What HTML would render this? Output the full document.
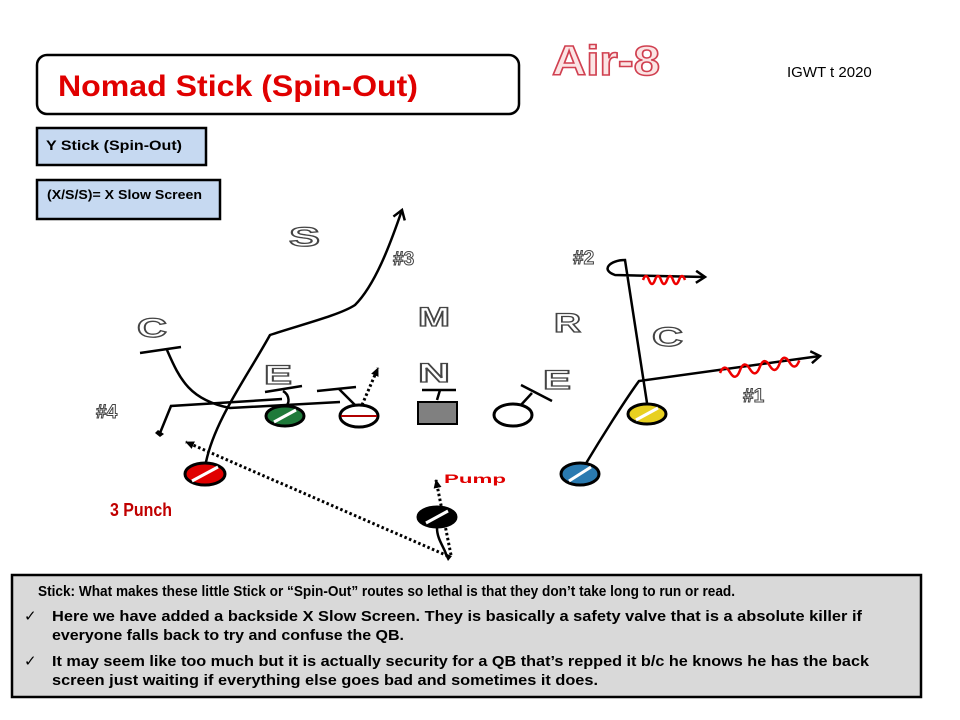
<!DOCTYPE html>
<html><head><meta charset="utf-8"><style>html,body{margin:0;padding:0;background:#fff}svg{display:block}</style></head>
<body>
<svg width="960" height="720" viewBox="0 0 960 720" xmlns="http://www.w3.org/2000/svg" font-family="Liberation Sans, sans-serif">
<defs>
<marker id="ah" markerWidth="14" markerHeight="14" refX="10" refY="7" orient="auto" markerUnits="userSpaceOnUse"><path d="M1,1 L10,7 L1,13" fill="none" stroke="#000" stroke-width="2.5"/></marker>
<marker id="ahs" markerWidth="10" markerHeight="10" refX="8" refY="5" orient="auto" markerUnits="userSpaceOnUse"><path d="M0,1 L9,5 L0,9 z" fill="#000"/></marker>
</defs>
<rect width="960" height="720" fill="#fff"/>
<rect x="37" y="55" width="482" height="59" rx="10" fill="#fff" stroke="#000" stroke-width="2.5"/>
<text x="58" y="96" font-size="30" font-weight="bold" fill="#e00000" textLength="360" lengthAdjust="spacingAndGlyphs">Nomad Stick (Spin-Out)</text>
<text x="552" y="75" font-size="42" font-weight="bold" fill="#fbe4e4" stroke="#d04050" stroke-width="1.5" textLength="108" lengthAdjust="spacingAndGlyphs">Air-8</text>
<text x="787" y="77" font-size="15" fill="#000">IGWT t 2020</text>
<rect x="37" y="128" width="169" height="37" fill="#c6d9f1" stroke="#000" stroke-width="2.5"/>
<text x="46" y="150" font-size="14" font-weight="bold" textLength="136" lengthAdjust="spacingAndGlyphs">Y Stick (Spin-Out)</text>
<rect x="37" y="180" width="183" height="39" fill="#c6d9f1" stroke="#000" stroke-width="2.5"/>
<text x="47" y="199" font-size="12.5" font-weight="bold" textLength="155" lengthAdjust="spacingAndGlyphs">(X/S/S)= X Slow Screen</text>
<g font-size="27" font-weight="900" fill="#fff" stroke="#444" stroke-width="1.3">
<text x="289" y="246" textLength="31" lengthAdjust="spacingAndGlyphs">S</text>
<text x="137" y="337" textLength="30" lengthAdjust="spacingAndGlyphs">C</text>
<text x="264" y="384" textLength="28" lengthAdjust="spacingAndGlyphs">E</text>
<text x="418" y="326" textLength="32" lengthAdjust="spacingAndGlyphs">M</text>
<text x="418" y="382" textLength="32" lengthAdjust="spacingAndGlyphs">N</text>
<text x="554" y="332" textLength="27" lengthAdjust="spacingAndGlyphs">R</text>
<text x="652" y="346" textLength="31" lengthAdjust="spacingAndGlyphs">C</text>
<text x="543" y="389" textLength="28" lengthAdjust="spacingAndGlyphs">E</text>
</g>
<g font-size="19" font-weight="bold" fill="#fff" stroke="#444" stroke-width="1">
<text x="393" y="265">#3</text>
<text x="96" y="418">#4</text>
<text x="573" y="264">#2</text>
<text x="743" y="402">#1</text>
</g>
<g fill="none" stroke="#000" stroke-width="2.5">
<path d="M206,462 C215,420 245,380 270,335 C300,325 340,315 355,305 C375,285 390,245 402,210" marker-end="url(#ah)"/>
<line x1="140" y1="353" x2="181" y2="347"/>
<path d="M167,350 C180,380 190,400 230,408 L340,402"/>
<path d="M160,433 L171,406 L282,399"/>
<line x1="265" y1="392" x2="302" y2="386"/>
<path d="M283,391 C290,395 290,405 285,406"/>
<line x1="317" y1="391" x2="356" y2="387"/>
<path d="M339,389 C345,395 350,400 355,405"/>
<line x1="422" y1="390" x2="456" y2="390"/>
<line x1="440" y1="390" x2="437" y2="400"/>
<line x1="521" y1="385" x2="552" y2="401"/>
<line x1="520" y1="406" x2="532" y2="393"/>
<path d="M647,403 L625,260 C610,260 600,270 615,275 L705,277" marker-end="url(#ah)"/>
<path d="M585,465 C600,440 625,400 639,381 L820,356" marker-end="url(#ah)"/>
<path d="M437,528 C437,540 445,548 447,557"/>
</g>
<path d="M158,430 L164,434 L160,437 L155,433 z" fill="#000"/>
<path d="M444,553 L452,556 L448,561 z" fill="#000"/>
<path d="M643,280 q3,-8 6,0 t6,0 t6,0 t6,0 t6,0 t6,0 t6,0" fill="none" stroke="#e00" stroke-width="2.5"/>
<path d="M720,373 q5,-10 10,0 t10,-1 t10,-1 t10,-1 t10,-1 t10,-1 t10,-1 t10,-1" fill="none" stroke="#e00" stroke-width="2.5" transform="rotate(-4 720 373)"/>
<g fill="none" stroke="#000" stroke-width="3" stroke-dasharray="2.5,2.5">
<line x1="448" y1="556" x2="186" y2="442" marker-end="url(#ahs)"/>
<line x1="451" y1="555" x2="436" y2="480" marker-end="url(#ahs)"/>
<line x1="362" y1="405" x2="378" y2="368" marker-end="url(#ahs)"/>
</g>
<g stroke-width="3">
<ellipse cx="205" cy="474" rx="20" ry="11" fill="#e00000" stroke="#000"/>
<line x1="192" y1="481" x2="218" y2="467" stroke="#fff"/>
<ellipse cx="285" cy="416" rx="19" ry="10" fill="#1f7a3a" stroke="#000"/>
<line x1="274" y1="422" x2="296" y2="410" stroke="#fff"/>
<ellipse cx="359" cy="416" rx="19" ry="11" fill="#fff" stroke="#000"/>
<line x1="341" y1="416" x2="377" y2="416" stroke="#b00000" stroke-width="2"/>
<rect x="418" y="402" width="39" height="22" fill="#808080" stroke="#000" stroke-width="2"/>
<ellipse cx="513" cy="415" rx="19" ry="11" fill="#fff" stroke="#000"/>
<ellipse cx="647" cy="414" rx="19" ry="10" fill="#e8d020" stroke="#000"/>
<line x1="636" y1="420" x2="658" y2="408" stroke="#fff"/>
<ellipse cx="580" cy="474" rx="19" ry="11" fill="#2a7ab0" stroke="#000"/>
<line x1="569" y1="481" x2="591" y2="467" stroke="#fff"/>
<ellipse cx="437" cy="517" rx="19" ry="10" fill="#000" stroke="#000"/>
<line x1="426" y1="523" x2="448" y2="511" stroke="#fff"/>
</g>
<text x="444" y="483" font-size="12" font-weight="bold" fill="#e00000" textLength="62" lengthAdjust="spacingAndGlyphs">Pump</text>
<text x="110" y="516" font-size="18" font-weight="bold" fill="#c00000" textLength="62" lengthAdjust="spacingAndGlyphs">3 Punch</text>
<rect x="12" y="575" width="909" height="122" fill="#d9d9d9" stroke="#000" stroke-width="2.5"/>
<g font-size="15" font-weight="bold" fill="#000">
<text x="38" y="596" textLength="697" lengthAdjust="spacingAndGlyphs">Stick: What makes these little Stick or “Spin-Out” routes so lethal is that they don’t take long to run or read.</text>
<text x="24" y="621" font-weight="normal">✓</text>
<text x="52" y="621" textLength="810" lengthAdjust="spacingAndGlyphs">Here we have added a backside X Slow Screen. They is basically a safety valve that is a absolute killer if</text>
<text x="52" y="640" textLength="352" lengthAdjust="spacingAndGlyphs">everyone falls back to try and confuse the QB.</text>
<text x="24" y="666" font-weight="normal">✓</text>
<text x="52" y="666" textLength="817" lengthAdjust="spacingAndGlyphs">It may seem like too much but it is actually security for a QB that’s repped it b/c he knows he has the back</text>
<text x="52" y="685" textLength="546" lengthAdjust="spacingAndGlyphs">screen just waiting if everything else goes bad and sometimes it does.</text>
</g>
</svg>
</body></html>
